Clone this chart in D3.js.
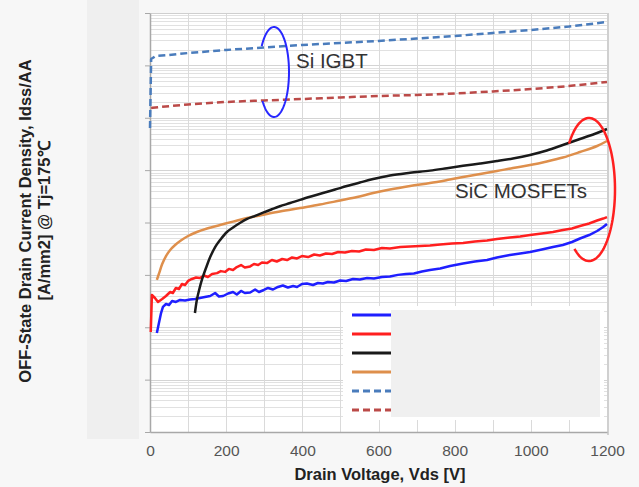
<!DOCTYPE html>
<html><head><meta charset="utf-8">
<script src="https://cdn.jsdelivr.net/npm/d3@7"></script>
<style>html,body{margin:0;padding:0;background:#f7f7f7;}svg{display:block;}</style>
</head><body>
<svg id="c" width="639" height="487"></svg>
<script>
// ---------- data ----------
const xTickLabels = [0, 200, 400, 600, 800, 1000, 1200];
const xGridValues = [0, 100, 200, 300, 400, 500, 600, 700, 800, 900, 1000, 1100, 1200];
const yDecades = [1e-9, 1e-8, 1e-7, 1e-6, 1e-5, 1e-4, 1e-3, 1e-2, 1e-1];

const xTitle = "Drain Voltage, Vds [V]";
const yTitle1 = "OFF-State Drain Current Density, Idss/AA";
const yTitle2 = "[A/mm2] @ Tj=175\u2103";
const noteIGBT = "Si IGBT";
const noteSiC = "SiC MOSFETs";

const igbtBlueV = [0, 3, 15, 50, 100, 200, 300, 400, 500, 600, 700, 800, 900, 1000, 1100, 1200];
const igbtBlueI = [6.4e-4, 1.32e-2, 1.51e-2, 1.58e-2, 1.72e-2, 1.97e-2, 2.2e-2, 2.45e-2, 2.68e-2, 2.92e-2, 3.26e-2, 3.64e-2, 4.15e-2, 4.74e-2, 5.53e-2, 6.73e-2];

const igbtRedV = [3, 100, 200, 300, 400, 500, 600, 700, 800, 900, 1000, 1100, 1200];
const igbtRedI = [1.54e-3, 1.79e-3, 2.0e-3, 2.14e-3, 2.28e-3, 2.44e-3, 2.6e-3, 2.72e-3, 2.91e-3, 3.18e-3, 3.54e-3, 4.04e-3, 4.82e-3];

const sicBlueV = [18,24,29,34,42,50,58,68,79,92,105,118,131,144,158,171,181,192,205,218,228,239,249,263,276,286,299,310,323,336,349,362,376,386,399,412,428,441,454,467,483,499,515,533,551,570,588,609,630,651,672,693,714,735,762,788,822,853,885,911,945,972,998,1029,1058,1084,1108,1129,1153,1174,1190,1200];
const sicBlueI = [7.8e-8,1.26e-7,1.87e-7,2.44e-7,2.78e-7,2.66e-7,3.18e-7,3.04e-7,3.32e-7,3.25e-7,3.39e-7,3.46e-7,3.62e-7,3.78e-7,3.95e-7,4.51e-7,3.87e-7,3.95e-7,4.41e-7,4.71e-7,4.22e-7,4.93e-7,4.51e-7,4.61e-7,5.26e-7,4.71e-7,5.15e-7,5.62e-7,5.26e-7,5.88e-7,6.27e-7,5.74e-7,6.14e-7,5.88e-7,6.7e-7,6.85e-7,6.41e-7,7.0e-7,6.85e-7,7.32e-7,7.16e-7,7.82e-7,7.65e-7,8.35e-7,8.17e-7,8.73e-7,8.53e-7,9.12e-7,9.32e-7,1.0e-6,1.04e-6,1.06e-6,1.16e-6,1.24e-6,1.32e-6,1.48e-6,1.65e-6,1.8e-6,1.92e-6,2.15e-6,2.4e-6,2.56e-6,2.74e-6,3.05e-6,3.4e-6,3.72e-6,4.24e-6,4.95e-6,5.77e-6,6.88e-6,8.2e-6,9.4e-6];

const sicRedV = [2,5,13,21,32,42,53,60,68,76,84,92,100,110,121,131,142,152,163,176,186,197,207,218,228,239,249,263,273,284,294,307,320,333,347,360,373,386,399,415,431,446,462,478,494,512,530,549,567,588,609,630,657,683,709,735,762,793,822,853,885,911,945,972,998,1029,1058,1084,1108,1129,1153,1174,1190,1200];
const sicRedI = [8.1e-8,4.13e-7,3.62e-7,3.04e-7,3.46e-7,3.95e-7,4.71e-7,4.51e-7,5.62e-7,5.38e-7,6.7e-7,6.41e-7,7.65e-7,8.35e-7,8.92e-7,8.73e-7,9.74e-7,9.12e-7,1.04e-6,1.08e-6,1.18e-6,1.14e-6,1.3e-6,1.24e-6,1.41e-6,1.54e-6,1.38e-6,1.45e-6,1.61e-6,1.54e-6,1.72e-6,1.68e-6,1.92e-6,1.8e-6,2.01e-6,1.92e-6,2.15e-6,2.06e-6,2.29e-6,2.19e-6,2.45e-6,2.35e-6,2.56e-6,2.5e-6,2.74e-6,2.68e-6,2.86e-6,2.8e-6,3.05e-6,2.99e-6,3.26e-6,3.19e-6,3.4e-6,3.48e-6,3.56e-6,3.64e-6,3.8e-6,3.97e-6,4.06e-6,4.34e-6,4.53e-6,4.84e-6,5.17e-6,5.4e-6,5.77e-6,6.17e-6,6.59e-6,7.19e-6,7.68e-6,8.57e-6,9.57e-6,1.09e-5,1.19e-5,1.27e-5];

const sicBlackV = [118,123,129,137,147,158,171,184,202,218,236,255,276,297,320,341,368,394,425,454,486,517,551,586,630,683,735,780,822,867,911,953,998,1042,1084,1129,1174,1200];
const sicBlackI = [1.87e-7,3.32e-7,5.15e-7,8.35e-7,1.35e-6,2.19e-6,3.4e-6,4.63e-6,6.59e-6,8.03e-6,9.78e-6,1.17e-5,1.34e-5,1.54e-5,1.79e-5,2.04e-5,2.35e-5,2.71e-5,3.17e-5,3.65e-5,4.26e-5,4.97e-5,5.8e-5,6.76e-5,7.89e-5,8.88e-5,9.78e-5,1.09e-4,1.21e-4,1.34e-4,1.49e-4,1.67e-4,1.95e-4,2.37e-4,3.02e-4,3.93e-4,5.12e-4,6.1e-4];

const sicOrangeV = [18,24,32,42,53,66,81,100,123,150,184,218,255,294,341,394,446,499,544,586,630,683,735,780,822,867,911,953,998,1042,1084,1129,1174,1200];
const sicOrangeI = [8.0e-7,1.08e-6,1.61e-6,2.29e-6,2.99e-6,3.72e-6,4.53e-6,5.52e-6,6.59e-6,7.68e-6,8.96e-6,1.04e-5,1.22e-5,1.39e-5,1.62e-5,1.89e-5,2.2e-5,2.63e-5,3.06e-5,3.65e-5,4.26e-5,4.97e-5,5.67e-5,6.47e-5,7.38e-5,8.43e-5,9.61e-5,1.1e-4,1.25e-4,1.46e-4,1.74e-4,2.22e-4,2.89e-4,3.6e-4];

// ---------- styles / layout ----------
const series = [
  {v: igbtBlueV, i: igbtBlueI, color: "#4a7cbc", dash: "7,4", curve: d3.curveLinear},
  {v: igbtRedV, i: igbtRedI, color: "#bb4a48", dash: "7,4", curve: d3.curveMonotoneX},
  {v: sicBlueV, i: sicBlueI, color: "#1f1fff", dash: null, curve: d3.curveLinear},
  {v: sicRedV, i: sicRedI, color: "#ff1f1f", dash: null, curve: d3.curveLinear},
  {v: sicOrangeV, i: sicOrangeI, color: "#de8f4c", dash: null, curve: d3.curveCatmullRom.alpha(0.5)},
  {v: sicBlackV, i: sicBlackI, color: "#1a1a1a", dash: null, curve: d3.curveCatmullRom.alpha(0.5)}
];
const legendOrder = [2, 3, 5, 4, 0, 1];
const FONT = "'Liberation Sans', Arial, sans-serif";
const M = {l: 150, r: 607, t: 13, b: 432};

const svg = d3.select("#c");
svg.append("rect").attr("width", 639).attr("height", 487).attr("fill", "#f7f7f7");
svg.append("rect").attr("x", 87).attr("y", 0).attr("width", 52).attr("height", 439).attr("fill", "#efefef");

const x = d3.scaleLinear().domain([0, 1200]).range([M.l, M.r]);
const y = d3.scaleLog().domain([1e-9, 1e-1]).range([M.b, M.t]);

svg.append("rect").attr("x", M.l).attr("y", M.t).attr("width", M.r - M.l).attr("height", M.b - M.t).attr("fill", "#ffffff");

// grid
const grid = svg.append("g");
const isDecade = d => Math.abs(Math.log10(d) - Math.round(Math.log10(d))) < 1e-6;
grid.selectAll("line.h").data(y.ticks()).join("line")
  .attr("x1", M.l).attr("x2", M.r)
  .attr("y1", d => Math.round(y(d)) + 0.5).attr("y2", d => Math.round(y(d)) + 0.5)
  .attr("stroke", d => isDecade(d) ? "#d4d4d4" : "#e1e1e1").attr("stroke-width", 1);
grid.selectAll("line.v").data(xGridValues).join("line")
  .attr("y1", M.t).attr("y2", M.b)
  .attr("x1", d => Math.round(x(d)) + 0.5).attr("x2", d => Math.round(x(d)) + 0.5)
  .attr("stroke", "#dadada").attr("stroke-width", 1);

// frame
svg.append("line").attr("x1", M.l).attr("x2", M.r).attr("y1", M.t + 0.5).attr("y2", M.t + 0.5).attr("stroke", "#cfcfcf");
svg.append("line").attr("x1", M.r + 1).attr("x2", M.r + 1).attr("y1", M.t).attr("y2", M.b + 3).attr("stroke", "#d0d0d0").attr("stroke-width", 2);

// axes
const ax = svg.append("g").attr("transform", `translate(0,${M.b})`)
  .call(d3.axisBottom(x).tickValues(xTickLabels).tickFormat(d3.format("d")).tickSizeInner(0).tickSizeOuter(0).tickPadding(13));
ax.select(".domain").attr("stroke", "#a8a8a8").attr("stroke-width", 1.5);
ax.selectAll("text").attr("font-family", FONT).attr("font-size", 15.5).attr("fill", "#555");

const ay = svg.append("g").attr("transform", `translate(${M.l},0)`)
  .call(d3.axisLeft(y).tickValues(yDecades).tickFormat("").tickSizeInner(5).tickSizeOuter(0));
ay.select(".domain").attr("stroke", "#a8a8a8").attr("stroke-width", 1.5);
ay.selectAll(".tick line").attr("stroke", "#a8a8a8");

// series
const plot = svg.append("g");
series.forEach(s => {
  const pts = s.v.map((v, k) => [v, s.i[k]]);
  plot.append("path").datum(pts)
    .attr("fill", "none").attr("stroke", s.color).attr("stroke-width", 2.5)
    .attr("stroke-dasharray", s.dash).attr("stroke-linejoin", "round")
    .attr("d", d3.line().x(d => x(d[0])).y(d => y(d[1])).curve(s.curve));
});

// legend (labels masked as in the reference)
const lg = svg.append("g");
lg.append("rect").attr("x", 343).attr("y", 306).attr("width", 261).attr("height", 114).attr("fill", "#ffffff");
legendOrder.forEach((si, k) => {
  const s = series[si];
  lg.append("line").attr("x1", 352).attr("x2", 391)
    .attr("y1", 315 + k * 19).attr("y2", 315 + k * 19)
    .attr("stroke", s.color).attr("stroke-width", 3).attr("stroke-dasharray", s.dash);
});
lg.append("rect").attr("x", 391).attr("y", 310).attr("width", 209).attr("height", 107).attr("fill", "#f0f0f0");

// annotation ellipses (open arcs, sampled)
function openEllipse(cx, cy, rx, ry, a0, a1) {
  const angles = d3.range(a0, a1 + 0.1, 3);
  return d3.line()(angles.map(t => [cx + rx * Math.cos(t * Math.PI / 180), cy + ry * Math.sin(t * Math.PI / 180)]));
}
svg.append("path").attr("d", openEllipse(274, 72, 15, 45, -145, 140))
  .attr("fill", "none").attr("stroke", "#2828ff").attr("stroke-width", 2);
svg.append("path").attr("d", openEllipse(589, 189.5, 26, 71.5, -140, 125))
  .attr("fill", "none").attr("stroke", "#ff2020").attr("stroke-width", 2.5);

// notes
svg.append("text").attr("x", 296).attr("y", 68).text(noteIGBT)
  .attr("font-family", FONT).attr("font-size", 20.5).attr("fill", "#333");
svg.append("text").attr("x", 455).attr("y", 198).text(noteSiC)
  .attr("font-family", FONT).attr("font-size", 20.5).attr("fill", "#333");

// axis titles
svg.append("text").attr("x", 380).attr("y", 480).attr("text-anchor", "middle").text(xTitle)
  .attr("font-family", FONT).attr("font-size", 16.5).attr("font-weight", "bold").attr("fill", "#222");
svg.append("text").attr("transform", "translate(31,221) rotate(-90)").attr("text-anchor", "middle").text(yTitle1)
  .attr("font-family", FONT).attr("font-size", 16.5).attr("font-weight", "bold").attr("fill", "#222");
svg.append("text").attr("transform", "translate(50,221) rotate(-90)").attr("text-anchor", "middle").text(yTitle2)
  .attr("font-family", FONT).attr("font-size", 16.5).attr("font-weight", "bold").attr("fill", "#222");
</script>
</body></html>
